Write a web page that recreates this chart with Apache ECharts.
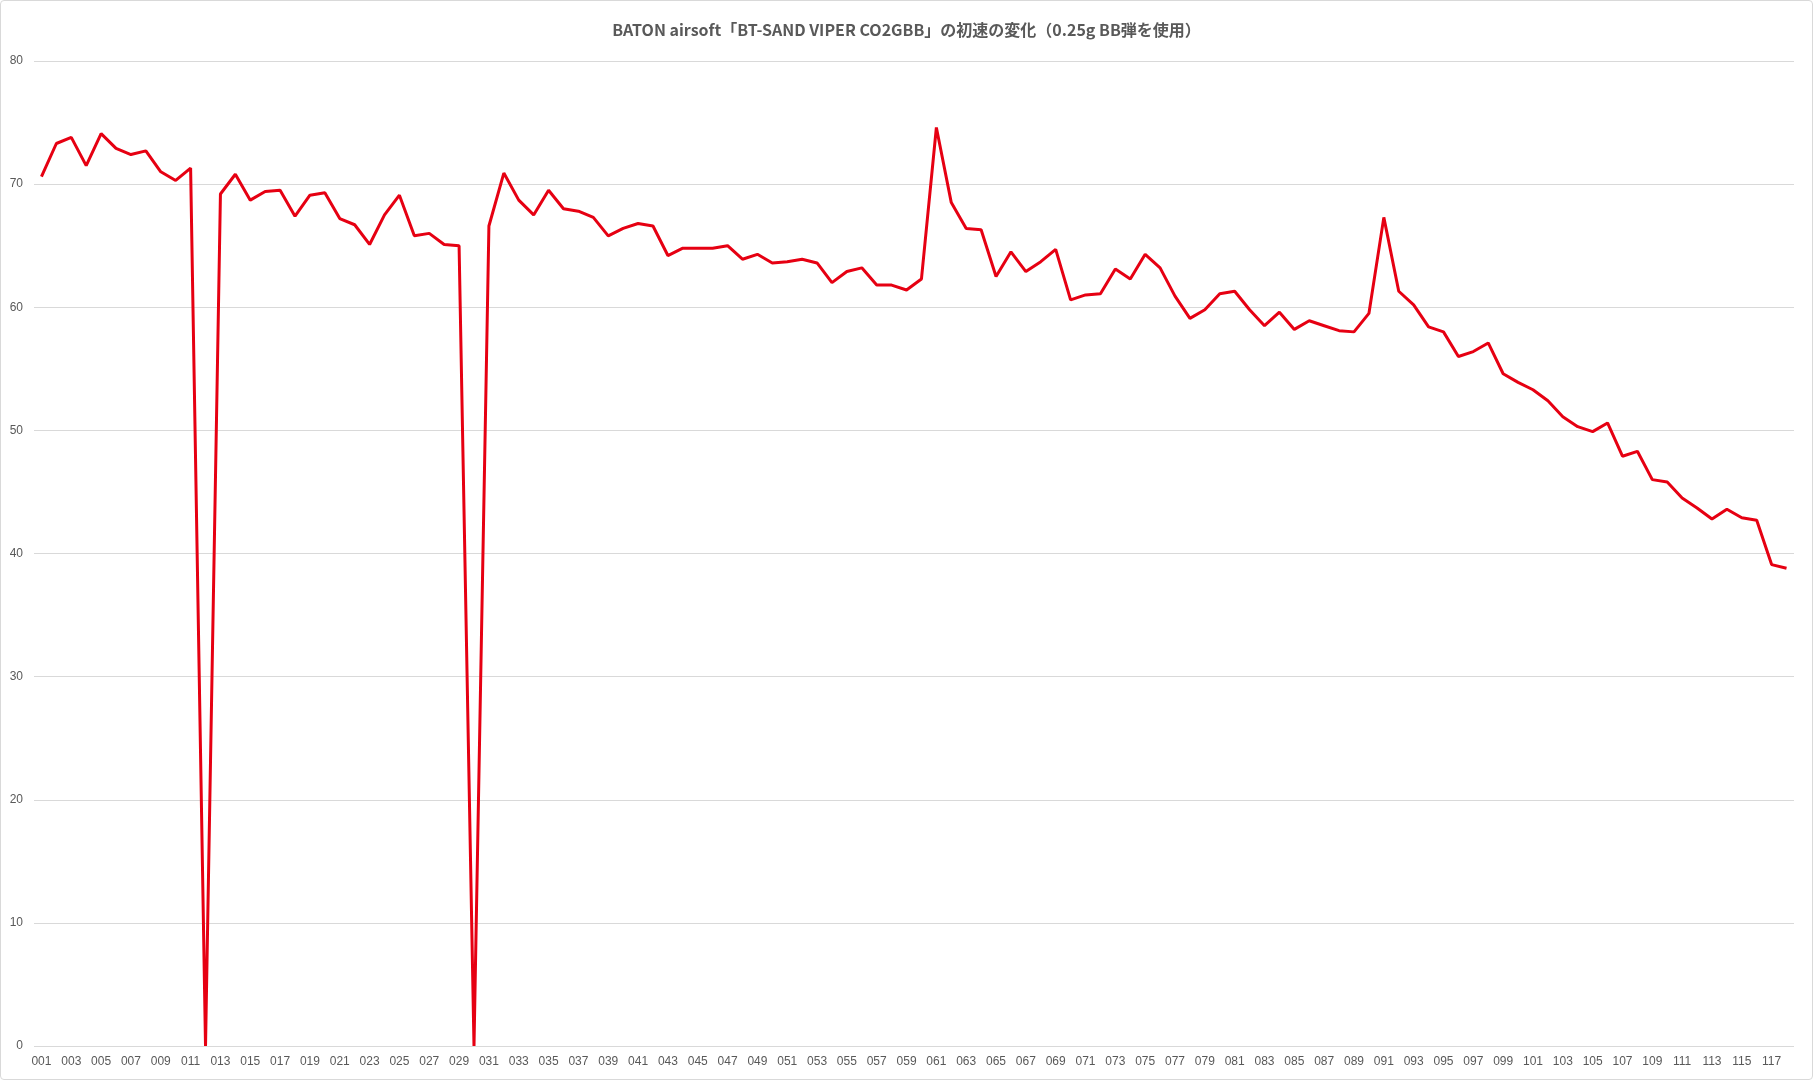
<!DOCTYPE html>
<html>
<head>
<meta charset="utf-8">
<script src="https://cdn.jsdelivr.net/npm/echarts@6/dist/echarts.min.js"></script>
<style>
  html, body { margin: 0; padding: 0; background: #fff; }
  #container { width: 1813px; height: 1080px; box-sizing: border-box; border: 1px solid #d9d9d9; border-radius: 4px; }
</style>
</head>
<body>
<div id="container"></div>
<script>
// 発射番号
const shots = [];
for (let i = 1; i <= 118; i++) shots.push(String(i).padStart(3, '0'));

// 初速 (m/s)
const velocity = [
  70.6, 73.3, 73.8, 71.5, 74.1, 72.9, 72.4, 72.7, 71.0, 70.3,
  71.3, 0,    69.2, 70.8, 68.7, 69.4, 69.5, 67.4, 69.1, 69.3,
  67.2, 66.7, 65.1, 67.5, 69.1, 65.8, 66.0, 65.1, 65.0, 0,
  66.6, 70.9, 68.7, 67.5, 69.5, 68.0, 67.8, 67.3, 65.8, 66.4,
  66.8, 66.6, 64.2, 64.8, 64.8, 64.8, 65.0, 63.9, 64.3, 63.6,
  63.7, 63.9, 63.6, 62.0, 62.9, 63.2, 61.8, 61.8, 61.4, 62.3,
  74.6, 68.5, 66.4, 66.3, 62.5, 64.5, 62.9, 63.7, 64.7, 60.6,
  61.0, 61.1, 63.1, 62.3, 64.3, 63.2, 60.9, 59.1, 59.8, 61.1,
  61.3, 59.8, 58.5, 59.6, 58.2, 58.9, 58.5, 58.1, 58.0, 59.5,
  67.3, 61.3, 60.2, 58.4, 58.0, 56.0, 56.4, 57.1, 54.6, 53.9,
  53.3, 52.4, 51.1, 50.3, 49.9, 50.6, 47.9, 48.3, 46.0, 45.8,
  44.5, 43.7, 42.8, 43.6, 42.9, 42.7, 39.1, 38.8
];

const titleText = 'BATON airsoft「BT-SAND VIPER CO2GBB」の初速の変化（0.25g BB弾を使用）';

let option = {
  textStyle: { fontFamily: '"Noto Sans CJK JP", "Noto Sans", sans-serif' },
  title: {
    text: titleText,
    left: 'center',
    top: 16,
    textStyle: {
      color: '#595959',
      fontSize: 16,
      fontWeight: 'bold',
      fontFamily: '"Noto Sans CJK JP", sans-serif'
    }
  },
  grid: { left: 33, right: 18, top: 60, bottom: 33 },
  xAxis: {
    type: 'category',
    boundaryGap: true,
    data: shots,
    axisLine: { show: false },
    axisTick: { show: false },
    axisLabel: {
      interval: 1,
      color: '#595959',
      fontSize: 12,
      margin: 10,
      fontFamily: '"Liberation Sans", Arial, sans-serif'
    }
  },
  yAxis: {
    type: 'value',
    min: 0,
    max: 80,
    interval: 10,
    axisLine: { show: false },
    axisTick: { show: false },
    axisLabel: {
      color: '#595959',
      fontSize: 12,
      margin: 11,
      fontFamily: '"Liberation Sans", Arial, sans-serif'
    },
    splitLine: { lineStyle: { color: '#d9d9d9', width: 1 } }
  },
  series: [
    {
      name: '初速',
      type: 'line',
      data: velocity,
      symbol: 'none',
      lineStyle: { color: '#e60012', width: 3 },
      itemStyle: { color: '#e60012' },
      animation: false
    }
  ]
};

let myChart = echarts.init(document.getElementById('container'));
myChart.setOption(option);
</script>
</body>
</html>
